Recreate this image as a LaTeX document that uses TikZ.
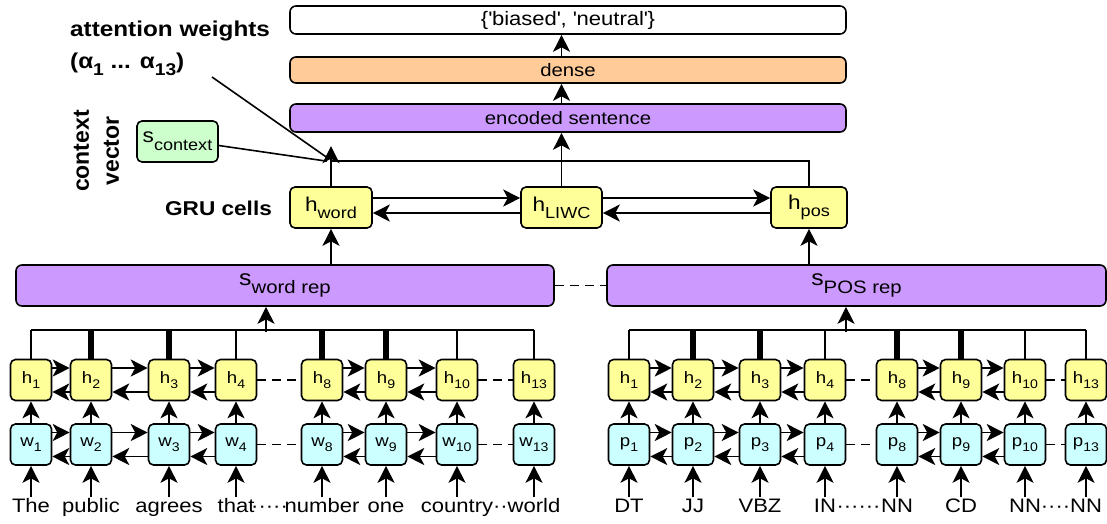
\documentclass[tikz,border=0pt]{standalone}
\usepackage{fontspec}
\setmainfont{Liberation Sans}[FakeStretch=1.13]
\newfontfamily\ctxf{Liberation Sans}
\usetikzlibrary{arrows.meta,calc}
\definecolor{hy}{RGB}{255,255,153}
\definecolor{wc}{RGB}{204,255,255}
\definecolor{pu}{RGB}{204,153,255}
\definecolor{orb}{RGB}{255,204,153}
\definecolor{grb}{RGB}{204,255,204}
\newcommand\fs[1]{\fontsize{#1}{#1}\selectfont}
\newcommand\hs[5]{{\fs{#1}#2}\raisebox{-#3pt}{\fs{#4}#5}}
\begin{document}
\begin{tikzpicture}[x=1pt,y=-1pt,
  box/.style={draw, rounded corners=5pt, line width=1.6pt, inner sep=0pt, minimum width=41pt, minimum height=41pt},
  hcell/.style={box, fill=hy},
  wcell/.style={box, fill=wc},
  bar/.style={draw, rounded corners=6pt, line width=1.6pt, inner sep=0pt},
  arr/.style={line width=1.6pt, -{Stealth[length=17pt,width=17pt,inset=4.5pt]}},
  ln/.style={line width=1.6pt},
  thick stick/.style={line width=6.5pt},
  dsh/.style={line width=1.6pt, dash pattern=on 9pt off 6pt},
  tok/.style={anchor=base, inner sep=1pt, text height=13.5pt, text depth=4pt, font=\fs{19.5}},
  dots/.style={anchor=base, inner sep=0pt, font=\fs{19.5}},
  title/.style={font=\bfseries\fs{21.5}, inner sep=0pt}]
\useasboundingbox (0,0) rectangle (1107,523);

% ---------- top stack ----------
\node[bar, fill=white, minimum width=556pt, minimum height=28pt] (out) at (568,20) {\fs{19.5}\{\textquotesingle biased\textquotesingle, \textquotesingle neutral\textquotesingle\}};
\node[bar, fill=orb, minimum width=556pt, minimum height=26pt] (dense) at (568,70) {\fs{18}dense};
\node[bar, fill=pu, minimum width=556pt, minimum height=28pt] (enc) at (568,118) {\fs{18}encoded sentence};

\node[bar, fill=hy, rounded corners=5pt, minimum width=82pt, minimum height=41pt] (hword) at (331,207.5) {\hs{20}{h}{7}{16}{word}};
\node[bar, fill=hy, rounded corners=5pt, minimum width=81pt, minimum height=41pt] (hliwc) at (561.5,207.5) {\hs{20}{h}{7}{16}{LIWC}};
\node[bar, fill=hy, rounded corners=5pt, minimum width=76pt, minimum height=41pt] (hpos) at (809,207.5) {\hs{20}{h}{7}{16}{pos}};
\node[bar, fill=grb, rounded corners=5pt, minimum width=81pt, minimum height=41pt] (sctx) at (177.5,141.5) {\hs{20}{s}{8}{16}{context}};

\draw[arr] (hliwc.north) -- (hliwc.north |- enc.south);
\draw[arr] (hliwc.north |- enc.north) -- (hliwc.north |- dense.south);
\draw[arr] (hliwc.north |- dense.north) -- (hliwc.north |- out.south);

\draw[arr] ($(hword.east)+(0,-9.5)$) -- ($(hliwc.west)+(0,-9.5)$);
\draw[arr] ($(hliwc.west)+(0,5.5)$) -- ($(hword.east)+(0,5.5)$);
\draw[arr] ($(hliwc.east)+(0,-9.5)$) -- ($(hpos.west)+(0,-9.5)$);
\draw[arr] ($(hpos.west)+(0,5.5)$) -- ($(hliwc.east)+(0,5.5)$);

\draw[ln] (hword.north) -- ++(0,-25) coordinate (j) -| (hpos.north);
\draw[arr] (j) -- ++(0,-15);
\draw[ln] ($(sctx.east)+(0,4)$) -- ($(j)+(-4,0)$);
\coordinate (attend) at (212,77);
\draw[ln] (attend) -- ($(j)+(-3,-3)$);

% ---------- labels ----------
\node[title, anchor=base west] (attw) at (70,36) {attention weights};
\node[title, anchor=base west] (alpha) at (70,68) {(α\raisebox{-7pt}{\fs{17}1} ... α\raisebox{-7pt}{\fs{17}13})};
\node[rotate=90, align=center, inner sep=0pt, font=\ctxf\bfseries\fontsize{23}{30}\selectfont] (ctxv) at (96.5,151) {context\\vector};
\node[title, anchor=base, font=\bfseries\fs{20}] (gru) at (218.5,215) {GRU cells};

% ---------- sentence representations ----------
\node[bar, fill=pu, minimum width=538pt, minimum height=41pt] (sw) at (285,285.5) {\hs{22}{s}{8}{18}{word rep}};
\node[bar, fill=pu, minimum width=499pt, minimum height=41pt] (sp) at (856.5,285.5) {\hs{22}{s}{8}{18}{POS rep}};
\draw[dsh] (sw.east) -- (sp.west);
\draw[arr] (sw.north -| hword.south) -- (hword.south);
\draw[arr] (sp.north -| hpos.south) -- (hpos.south);

% ---------- left: words ----------
\foreach \i/\x/\t in {1/31/The,2/91/public,3/169/agrees,4/236/that,8/322/number,9/386/one,10/457/country,13/534/world}{
  \node[hcell] (lh\i) at (\x,380) {\hs{16.5}{h}{5}{12.5}{\i}};
  \node[wcell] (lw\i) at (\x,444.5) {\hs{16.5}{w}{5}{12.5}{\i}};
  \node[tok] (lt\i) at (\x,512) {\t};
  \draw[arr] (lt\i.north) -- (lw\i.south);
  \draw[arr] (lw\i.north) -- (lh\i.south);
}
% ---------- right: POS ----------
\foreach \i/\x/\t in {1/629/DT,2/693/JJ,3/760/VBZ,4/825/IN,8/897/NN,9/961/CD,10/1025/NN,13/1086/NN}{
  \node[hcell] (rh\i) at (\x,380) {\hs{16.5}{h}{5}{12.5}{\i}};
  \node[wcell] (rp\i) at (\x,444.5) {\hs{16.5}{p}{5}{12.5}{\i}};
  \node[tok] (rt\i) at (\x,512) {\t};
  \draw[arr] (rt\i.north) -- (rp\i.south);
  \draw[arr] (rp\i.north) -- (rh\i.south);
}
\foreach \a/\b in {1/2,2/3,3/4,8/9,9/10}{
  \foreach \r in {lh,lw,rh,rp}{
    \draw[arr] ($(\r\a.east)+(0,-12)$) -- ($(\r\b.west)+(0,-12)$);
    \draw[arr] ($(\r\b.west)+(0,12)$) -- ($(\r\a.east)+(0,12)$);
  }
}
\foreach \a/\b in {4/8,10/13}{
  \foreach \r in {lh,lw,rh,rp}{
    \draw[dsh] (\r\a.east) -- (\r\b.west);
  }
}
\node[dots] at ($(lt4.base east)!0.5!(lt8.base west)$) {·····};
\node[dots] at ($(lt10.base east)!0.5!(lt13.base west)$) {··};
\node[dots] at ($(rt4.base east)!0.5!(rt8.base west)$) {······};
\node[dots] at ($(rt10.base east)!0.5!(rt13.base west)$) {····};

% ---------- attention brackets ----------
\foreach \p in {lh,rh}{
  \foreach \i in {1,4,10,13} \draw[ln] (\p\i.north) -- ++(0,-28.5);
  \foreach \i in {2,3,8,9} \draw[thick stick] (\p\i.north) -- ++(0,-28.5);
  \draw[ln] ($(\p1.north)+(0,-28.5)$) -- ($(\p13.north)+(0,-28.5)$);
}
\draw[arr] ($(sw.south)+(-19,25)$) -- ($(sw.south)+(-19,0)$);
\draw[arr] ($(sp.south)+(-10.5,25)$) -- ($(sp.south)+(-10.5,0)$);
\end{tikzpicture}
\end{document}
